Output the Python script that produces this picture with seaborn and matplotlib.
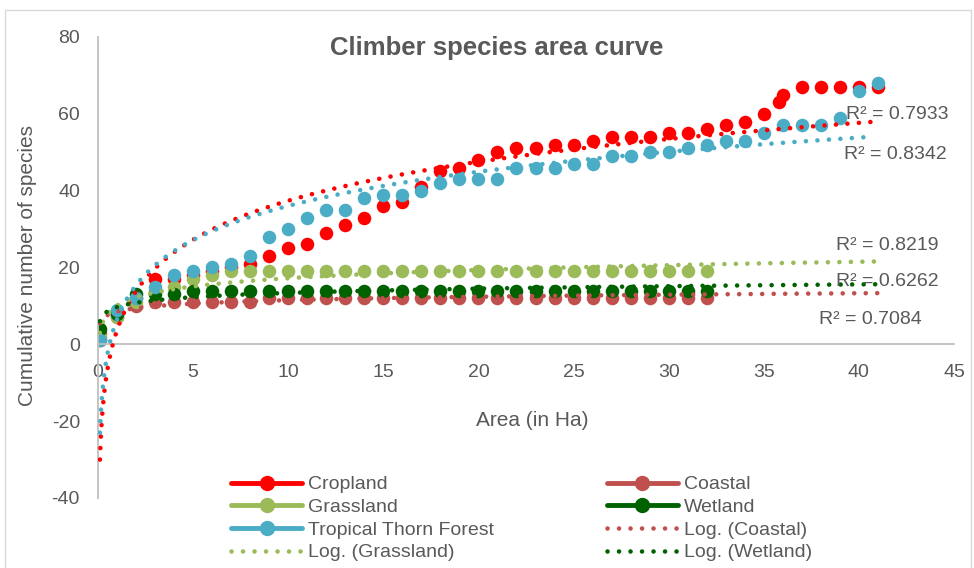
import numpy as np
import matplotlib
matplotlib.use("Agg")
import matplotlib.pyplot as plt
from matplotlib.lines import Line2D
from matplotlib.patches import Rectangle
import seaborn as sns

# ---------------- data ----------------
cropland_x = [0.1, 1, 2, 3, 4, 5, 6, 7, 8, 9, 10, 11, 12, 13, 14, 15, 16, 17, 18, 19, 20,
              21, 22, 23, 24, 25, 26, 27, 28, 29, 30, 31, 32, 33, 34, 35, 35.8, 36, 37, 38,
              39, 40, 41]
cropland_y = [1, 8, 12, 17, 17, 18, 19, 20, 21, 23, 25, 26, 29, 31, 33, 36, 37, 41, 45, 46, 48,
              50, 51, 51, 52, 52, 53, 54, 54, 54, 55, 55, 56, 57, 58, 60, 63, 65, 67, 67,
              67, 67, 67]

ttf_x = [0.1, 1, 2, 3, 4, 5, 6, 7, 8, 9, 10, 11, 12, 13, 14, 15, 16, 17, 18, 19, 20,
         21, 22, 23, 24, 25, 26, 27, 28, 29, 30, 31, 32, 33, 34, 35, 36, 37, 38, 39, 40, 41]
ttf_y = [1, 9, 12, 15, 18, 19, 20, 21, 23, 28, 30, 33, 35, 35, 38, 39, 39, 40, 42, 43, 43,
         43, 46, 46, 46, 47, 47, 49, 49, 50, 50, 51, 52, 53, 53, 55, 57, 57, 57, 59, 66, 68]

short_x = [0.1, 1, 2, 3, 4, 5, 6, 7, 8, 9, 10, 11, 12, 13, 14, 15, 16, 17, 18, 19, 20,
           21, 22, 23, 24, 25, 26, 27, 28, 29, 30, 31, 32]
coastal_y = [3, 7, 10, 11, 11, 11, 11, 11, 11, 12, 12, 12, 12, 12, 12, 12, 12, 12, 12, 12, 12,
             12, 12, 12, 12, 12, 12, 12, 12, 12, 12, 12, 12]
grassland_y = [2, 7, 11, 14, 15, 17, 18, 19, 19, 19, 19, 19, 19, 19, 19, 19, 19, 19, 19, 19, 19,
               19, 19, 19, 19, 19, 19, 19, 19, 19, 19, 19, 19]
wetland_y = [4, 8, 13, 13, 13, 14, 14, 14, 14, 14, 14, 14, 14, 14, 14, 14, 14, 14, 14, 14, 14,
             14, 14, 14, 14, 14, 14, 14, 14, 14, 14, 14, 14]

series_names = ["Cropland", "Coastal", "Grassland", "Wetland", "Tropical Thorn Forest"]
series_colors = ["#FF0000", "#C0504D", "#9BBB59", "#006100", "#4BACC6"]

# logarithmic trendlines y = a*ln(x) + b
trend_a = [14.63, 1.30, 3.09, 1.60, 12.82]
trend_b = [3.69, 8.50, 10.10, 9.70, 6.52]
trend_start = [0.1, 0.1, 0.1, 0.1, 0.1]
trend_end = [41, 41, 41, 41, 40.6]

r2_labels = ["R\u00b2 = 0.7933", "R\u00b2 = 0.8342", "R\u00b2 = 0.8219",
             "R\u00b2 = 0.6262", "R\u00b2 = 0.7084"]
r2_pos = [(39.33, 59.7), (39.2, 49.3), (38.8, 25.8), (38.8, 16.4), (37.9, 6.5)]

x_ticks = [0, 5, 10, 15, 20, 25, 30, 35, 40, 45]
y_ticks = [-40, -20, 0, 20, 40, 60, 80]

# ---------------- style ----------------
sns.set_style("white")
plt.rcParams["font.family"] = ["Liberation Sans", "DejaVu Sans"]
plt.rcParams["axes.unicode_minus"] = False
TXT = "#595959"
AXC = "#BFBFBF"

fig = plt.figure(figsize=(9.74, 5.68), dpi=100)
ax = fig.add_axes([0.10062, 0.12324, 0.87885, 0.81162])

xs_list = [cropland_x, short_x, short_x, short_x, ttf_x]
ys_list = [cropland_y, coastal_y, grassland_y, wetland_y, ttf_y]

for xs, ys, c in zip(xs_list, ys_list, series_colors):
    sns.scatterplot(x=xs, y=ys, color=c, s=95, linewidth=0, ax=ax, zorder=2, legend=False)

DOT = (0, (0.01, 2.5))
for a, b, s0, s1, c in zip(trend_a, trend_b, trend_start, trend_end, series_colors):
    tx = np.geomspace(s0, s1, 500)
    ty = a * np.log(tx) + b
    sns.lineplot(x=tx, y=ty, color=c, lw=3.3, linestyle=DOT, dash_capstyle="round",
                 ax=ax, zorder=3, sort=False, estimator=None)

for lab, (px, py) in zip(r2_labels, r2_pos):
    ax.text(px, py, lab, fontsize=14, color=TXT, ha="left", va="center", zorder=5)

ax.set_xlim(0, 45)
ax.set_ylim(-40, 80)
ax.set_xticks(x_ticks)
ax.set_yticks(y_ticks)

for sp in ["top", "right"]:
    ax.spines[sp].set_visible(False)
ax.spines["bottom"].set_position(("data", 0))
for sp in ["left", "bottom"]:
    ax.spines[sp].set_color(AXC)
    ax.spines[sp].set_linewidth(1.3)

ax.tick_params(axis="x", length=5, width=1, color=AXC, direction="out", pad=9,
               labelsize=14, labelcolor=TXT)
ax.tick_params(axis="y", length=0, pad=13, labelsize=14, labelcolor=TXT)

ax.set_xlabel("Area (in Ha)", fontsize=15, color=TXT)
ax.xaxis.set_label_coords(0.507, 0.169)
ax.xaxis.label.set_verticalalignment("center")
ax.set_ylabel("Cumulative number of species", fontsize=15, color=TXT)
ax.yaxis.set_label_coords(-0.0818, 0.505)
ax.yaxis.label.set_verticalalignment("center")

ax.text(0.466, 0.976, "Climber species area curve", transform=ax.transAxes,
        ha="center", va="center", fontsize=18.5, fontweight="bold", color=TXT)

# legend (matplotlib fills columns first)
def mk(c):
    return Line2D([], [], color=c, lw=3.5, marker="o", markersize=10)

def dot(c):
    return Line2D([], [], color=c, lw=3.3, linestyle=DOT, dash_capstyle="round")

handles = [mk(series_colors[0]), mk(series_colors[2]), mk(series_colors[4]), dot(series_colors[2]),
           mk(series_colors[1]), mk(series_colors[3]), dot(series_colors[1]), dot(series_colors[3])]
labels = [series_names[0], series_names[2], series_names[4], "Log. (" + series_names[2] + ")",
          series_names[1], series_names[3], "Log. (" + series_names[1] + ")",
          "Log. (" + series_names[3] + ")"]
fig.legend(handles, labels, ncol=2, loc="center", bbox_to_anchor=(0.5354, 0.0871),
           frameon=False, fontsize=14, handlelength=3.65, handletextpad=0.3,
           columnspacing=5.8, labelspacing=0.26, borderpad=0, labelcolor=TXT)

fig.add_artist(Rectangle((5 / 974, -0.02), (971 - 5) / 974, 1 - 10 / 568 + 0.02,
                         transform=fig.transFigure, fill=False, edgecolor="#D9D9D9", lw=1))

fig.savefig("out.png", dpi=100)
